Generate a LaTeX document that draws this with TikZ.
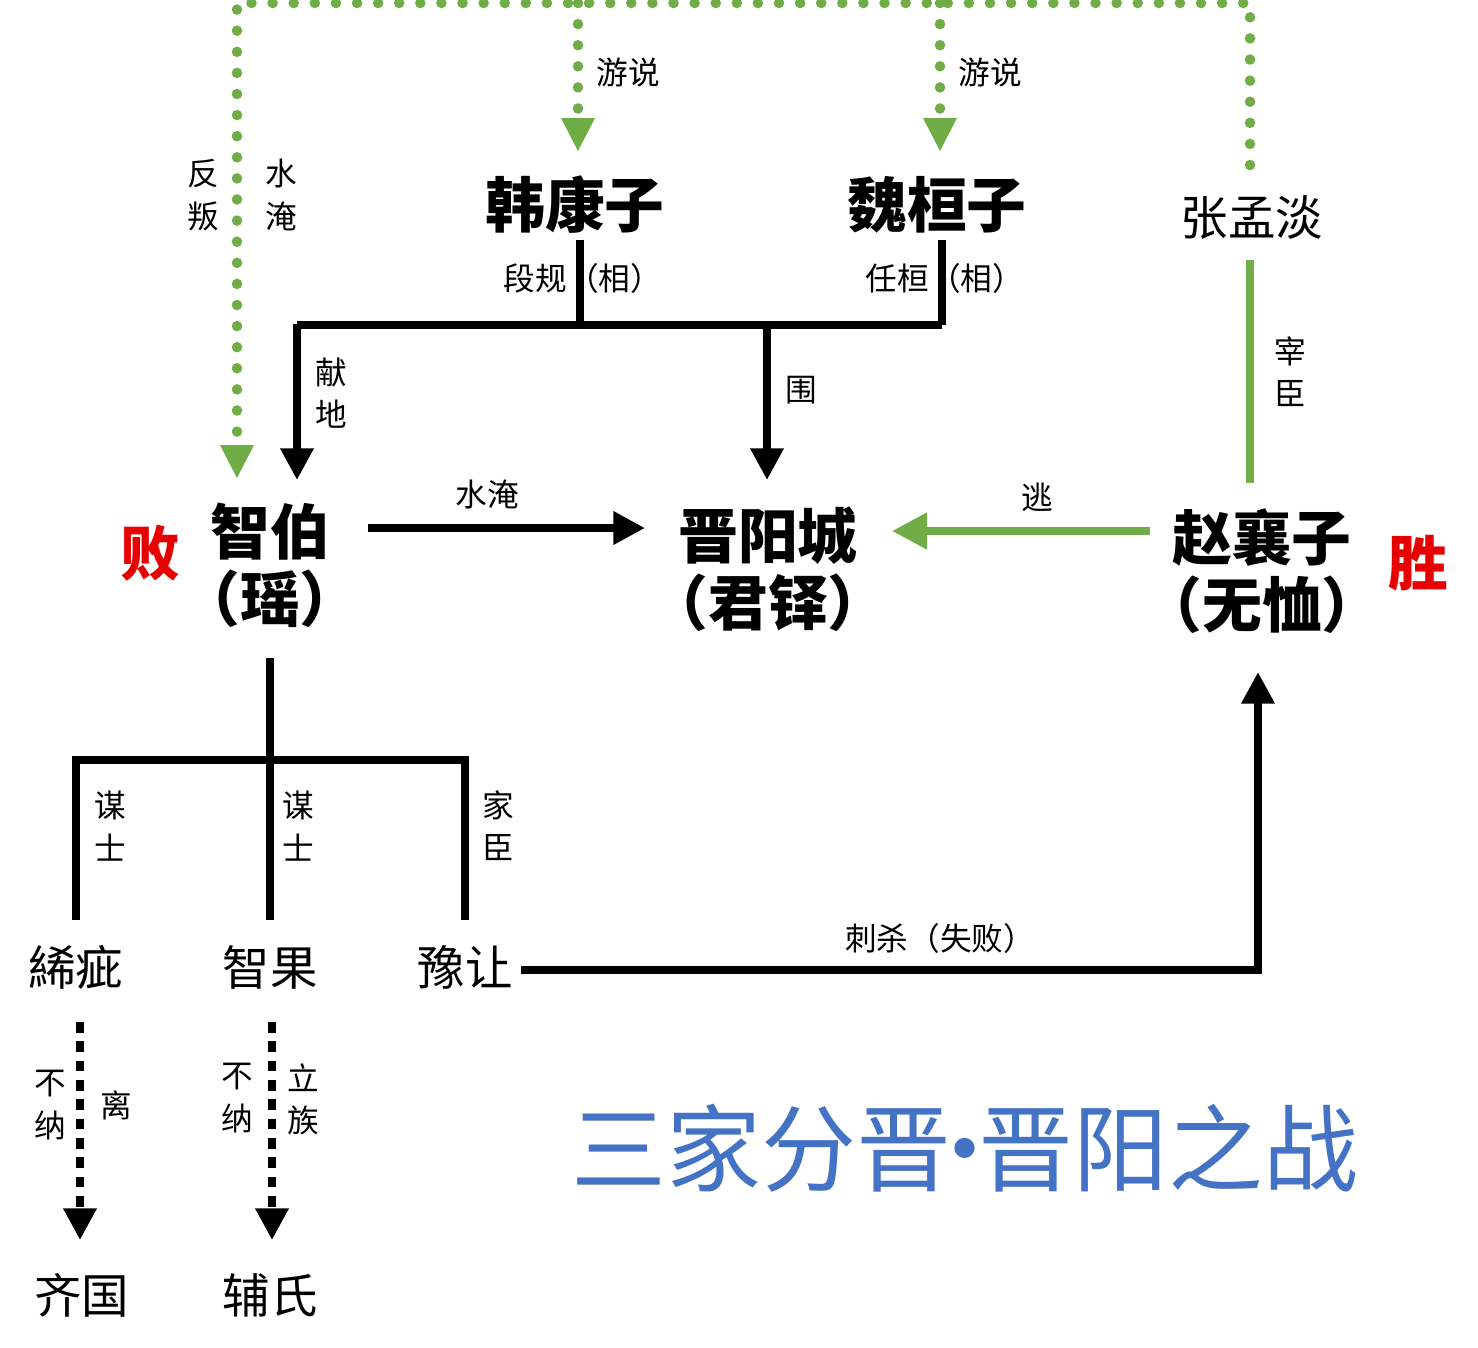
\documentclass[tikz,border=0pt]{standalone}
\usepackage{fontspec}
\setmainfont{Noto Sans CJK SC}
\usetikzlibrary{arrows.meta,positioning}
\definecolor{zgreen}{RGB}{112,173,71}
\definecolor{zblue}{RGB}{68,114,196}
\definecolor{zred}{RGB}{230,0,0}
\tikzset{
  big/.style={font=\fontsize{17}{19}\selectfont\bfseries, inner sep=0pt, align=center},
  mid/.style={font=\fontsize{13.5}{15}\selectfont, inner sep=0pt},
  lbl/.style={font=\fontsize{9}{12}\selectfont, inner sep=0pt, align=center},
  blk/.style={line width=2.2pt, black},
  blkarr/.style={blk, -{Triangle[width=9pt,length=9pt]}},
  grn/.style={line width=2.2pt, zgreen},
  grnarr/.style={grn, -{Triangle[width=10pt,length=10pt]}},
  gdot/.style={zgreen, line width=3pt, dash pattern=on 0pt off 6pt, line cap=round},
  bdot/.style={black, line width=2.2pt, dash pattern=on 3pt off 2.5pt}
}
\begin{document}
\begin{tikzpicture}[x=0.01cm,y=-0.01cm]
  \useasboundingbox (0,0) rectangle (1478,1347);
  % names
  \node[big] (han) at (575,205) {韩康子};
  \node[big] (wei) at (937,205) {魏桓子};
  \node[mid] (zhang) at (1252,218) {张孟淡};
  \node[big] (zhi) at (270,565) {智伯\\（瑶）};
  \node[big] (jin) at (768,569) {晋阳城\\（君铎）};
  \node[big] (zhao) at (1262,571) {赵襄子\\（无恤）};
  \node[big, text=zred] (bai) at (150,553) {败};
  \node[big, text=zred] (sheng) at (1418,563) {胜};
  \node[mid] (chi) at (76,967) {絺疵};
  \node[mid] (guo) at (270,967) {智果};
  \node[mid] (yu) at (465,967) {豫让};
  \node[mid] (qi) at (82,1295) {齐国};
  \node[mid] (fu) at (270,1295) {辅氏};
  \node[font=\fontsize{27}{30}\selectfont, text=zblue, inner sep=0pt] (title) at (965,1148) {三家分晋\kern-0.36em·\kern-0.36em晋阳之战};

  % green dotted lobbying
  \coordinate (top) at (1250,3);
  \draw[gdot] (1250,165) -- (top) -- (237,3) -- (237,440);
  \draw[gdot] (578,3) -- (578,115);
  \draw[gdot] (940,3) -- (940,115);
  \fill[zgreen] (220,445) -- (254,445) -- (237,478) -- cycle;
  \fill[zgreen] (561,118) -- (595,118) -- (578,151) -- cycle;
  \fill[zgreen] (923,118) -- (957,118) -- (940,151) -- cycle;
  \node[lbl] at (628,72) {游说};
  \node[lbl] at (990,72) {游说};
  \node[lbl] at (203,195) {反\\叛};
  \node[lbl] at (281,195) {水\\淹};

  % han & wei
  \node[lbl] at (583,278) {段规（相）};
  \node[lbl] at (945,278) {任桓（相）};
  \draw[blk] (580,240) -- (580,325);
  \draw[blk] (942,240) -- (942,325);
  \draw[blk] (297,325) -- (942,325);
  \draw[blkarr] (297,324) -- (297,480);
  \draw[blkarr] (767,324) -- (767,480);
  \node[lbl] at (331,393) {献\\地};
  \node[lbl] at (801,390) {围};

  % middle row
  \draw[blkarr] (368,528) -- (645,528);
  \node[lbl] at (487,494) {水淹};
  \draw[grnarr] (1150,531) -- (892,531);
  \node[lbl] at (1037,497) {逃};
  \draw[grn] (1250,260) -- (1250,483);
  \node[lbl] at (1290,372) {宰\\臣};

  % zhi bo's men
  \draw[blk] (270,658) -- (270,920);
  \draw[blk] (76,920) -- (76,760) -- (465,760) -- (465,920);
  \node[lbl] at (110,826) {谋\\士};
  \node[lbl] at (298,826) {谋\\士};
  \node[lbl] at (498,826) {家\\臣};
  \draw[blkarr] (yu.east) ++(8,3) -- (1258,970) -- (1258,672);
  \node[lbl] at (940,938) {刺杀（失败）};

  % fates
  \draw[bdot, -{Triangle[width=9pt,length=9pt]}] (80,1022) -- (80,1240);
  \draw[bdot, -{Triangle[width=9pt,length=9pt]}] (272,1022) -- (272,1240);
  \node[lbl] at (50,1105) {不\\纳};
  \node[lbl] at (116,1105) {离};
  \node[lbl] at (237,1098) {不\\纳};
  \node[lbl] at (303,1099) {立\\族};
\end{tikzpicture}
\end{document}
